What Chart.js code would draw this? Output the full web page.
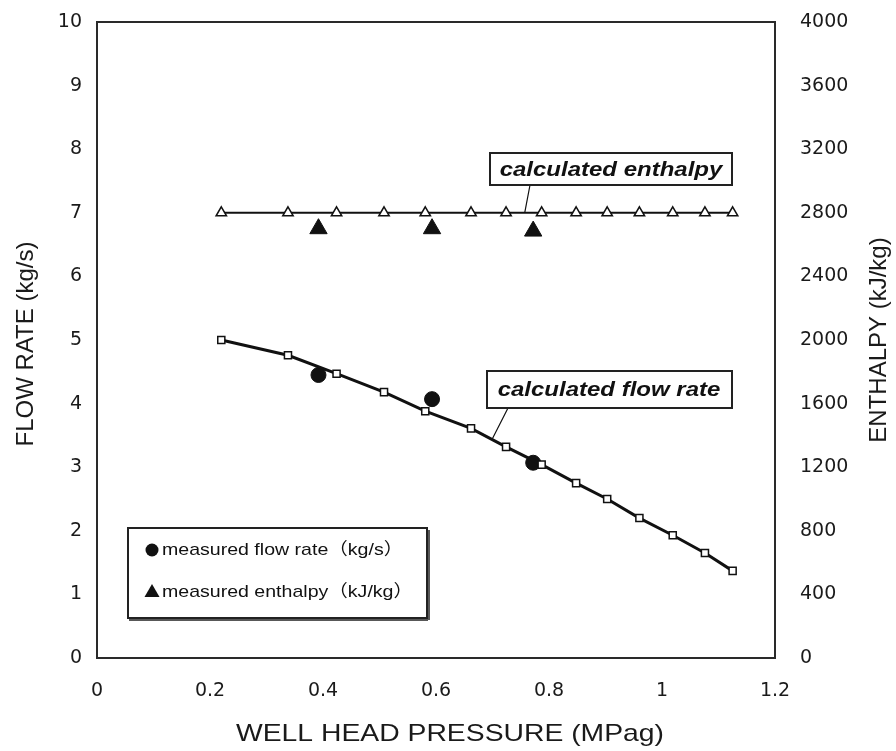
<!DOCTYPE html>
<html><head><meta charset="utf-8">
<script src="https://cdn.jsdelivr.net/npm/chart.js@4.4.1/dist/chart.umd.min.js"></script>
<style>html,body{margin:0;padding:0;background:#fff}#wrap{width:896px;height:751px}</style>
</head><body><div id="wrap"><canvas id="c" width="896" height="751"></canvas></div>
<script>
const pressureCalc = [0.22,0.338,0.424,0.508,0.581,0.662,0.724,0.787,0.848,0.903,0.96,1.019,1.076,1.125];
const flowCalc = [5.0,4.76,4.47,4.18,3.88,3.61,3.32,3.04,2.75,2.50,2.20,1.93,1.65,1.37];
const enthalpyCalc = [2800,2800,2800,2800,2800,2800,2800,2800,2800,2800,2800,2800,2800,2800];
const pressureMeas = [0.392,0.593,0.772];
const flowMeas = [4.45,4.07,3.07];
const enthalpyMeas = [2700,2700,2685];
const xTicks = [0,0.2,0.4,0.6,0.8,1,1.2];
const flowTicks = [0,1,2,3,4,5,6,7,8,9,10];
const enthalpyTicks = [0,400,800,1200,1600,2000,2400,2800,3200,3600,4000];
const xTitle = 'WELL HEAD PRESSURE (MPag)';
const yLeftTitle = 'FLOW RATE (kg/s)';
const yRightTitle = 'ENTHALPY (kJ/kg)';
const legendLabels = ['measured flow rate（kg/s）','measured enthalpy（kJ/kg）'];
const noteEnthalpy = 'calculated enthalpy';
const noteFlow = 'calculated flow rate';

const FONT = '"Liberation Sans", Arial, "Noto Sans CJK JP", sans-serif';
const TICKFONT = '"DejaVu Sans", "Liberation Sans", sans-serif';
const INK = '#111';

const pts = (xs, ys) => xs.map((x, i) => ({x, y: ys[i]}));

function wideText(ctx, text, x, y, sx, align) {
  ctx.save();
  ctx.translate(x, y);
  ctx.scale(sx, 1);
  ctx.textAlign = align;
  ctx.fillText(text, 0, 0);
  ctx.restore();
}

const decor = {
  id: 'decor',
  beforeDatasetsDraw(chart) {
    const {ctx, chartArea: a} = chart;
    ctx.save();
    ctx.strokeStyle = '#2a2a2a';
    ctx.lineWidth = 2;
    ctx.strokeRect(a.left, a.top, a.right - a.left, a.bottom - a.top);
    ctx.restore();
  },
  afterDatasetsDraw(chart) {
    const {ctx, scales} = chart;
    const x = scales.x, yl = scales.yFlow, yr = scales.yEnth;
    ctx.save();
    // leader lines
    ctx.strokeStyle = INK; ctx.lineWidth = 1.2;
    ctx.beginPath();
    ctx.moveTo(530, 185); ctx.lineTo(x.getPixelForValue(0.757), yr.getPixelForValue(2800));
    ctx.moveTo(508, 408); ctx.lineTo(x.getPixelForValue(0.70), yl.getPixelForValue(3.45));
    ctx.stroke();
    // annotation boxes
    ctx.lineWidth = 2; ctx.strokeStyle = '#222'; ctx.fillStyle = '#fff';
    ctx.fillRect(490, 153, 242, 32); ctx.strokeRect(490, 153, 242, 32);
    ctx.fillRect(487, 371, 245, 37); ctx.strokeRect(487, 371, 245, 37);
    ctx.fillStyle = INK;
    ctx.font = 'italic bold 20px ' + FONT;
    ctx.textBaseline = 'alphabetic';
    wideText(ctx, noteEnthalpy, 611, 176, 1.2, 'center');
    wideText(ctx, noteFlow, 609, 396, 1.2, 'center');
    // legend
    ctx.fillStyle = '#fff';
    ctx.fillRect(128, 528, 299, 90);
    ctx.strokeStyle = '#222'; ctx.lineWidth = 2;
    ctx.strokeRect(128, 528, 299, 90);
    ctx.beginPath(); ctx.moveTo(129, 620); ctx.lineTo(428, 620); ctx.moveTo(429, 530); ctx.lineTo(429, 620); ctx.lineWidth = 1.5; ctx.stroke();
    ctx.fillStyle = INK;
    ctx.beginPath(); ctx.arc(152, 550, 6.5, 0, Math.PI * 2); ctx.fill();
    ctx.beginPath(); ctx.moveTo(152, 584); ctx.lineTo(159.5, 597); ctx.lineTo(144.5, 597); ctx.closePath(); ctx.fill();
    ctx.font = '17px ' + FONT; ctx.textBaseline = 'middle';
    wideText(ctx, legendLabels[0], 162, 550, 1.15, 'left');
    wideText(ctx, legendLabels[1], 162, 592, 1.15, 'left');
    // axis titles
    ctx.font = '24px ' + FONT; ctx.textBaseline = 'middle';
    ctx.fillStyle = '#1a1a1a';
    wideText(ctx, xTitle, 450, 734, 1.18, 'center');
    ctx.textAlign = 'center';
    ctx.save(); ctx.translate(26, 344); ctx.rotate(-Math.PI / 2); ctx.fillText(yLeftTitle, 0, 0); ctx.restore();
    ctx.save(); ctx.translate(879, 340); ctx.rotate(-Math.PI / 2); ctx.fillText(yRightTitle, 0, 0); ctx.restore();
    ctx.restore();
  }
};

const fitY = w => s => { s.width = w; s.paddingTop = 0; s.paddingBottom = 0; };

new Chart(document.getElementById('c'), {
  type: 'line',
  data: {
    datasets: [
      {label: 'calculated flow rate', data: pts(pressureCalc, flowCalc), yAxisID: 'yFlow', order: 0,
       borderColor: INK, borderWidth: 3, pointStyle: 'rect', pointRadius: 5, pointBorderWidth: 1.5,
       pointBackgroundColor: '#fff', pointBorderColor: INK, tension: 0},
      {label: 'calculated enthalpy', data: pts(pressureCalc, enthalpyCalc), yAxisID: 'yEnth', order: 0,
       borderColor: INK, borderWidth: 2, pointStyle: 'triangle', pointRadius: 6, pointBorderWidth: 1.5,
       pointBackgroundColor: '#fff', pointBorderColor: INK},
      {label: 'measured flow rate (kg/s)', data: pts(pressureMeas, flowMeas), yAxisID: 'yFlow', order: 1,
       showLine: false, pointStyle: 'circle', pointRadius: 7.5, pointBackgroundColor: INK, pointBorderColor: INK},
      {label: 'measured enthalpy (kJ/kg)', data: pts(pressureMeas, enthalpyMeas), yAxisID: 'yEnth', order: 1,
       showLine: false, pointStyle: 'triangle', pointRadius: 10, pointBackgroundColor: INK, pointBorderColor: INK}
    ]
  },
  options: {
    responsive: false, animation: false,
    layout: {padding: {top: 22, left: 0, right: 0, bottom: 0}},
    plugins: {legend: {display: false}, tooltip: {enabled: false}},
    scales: {
      x: {type: 'linear', min: 0, max: 1.2,
          afterBuildTicks: s => { s.ticks = xTicks.map(v => ({value: v})); },
          afterFit: s => { s.height = 93; s.paddingLeft = 0; s.paddingRight = 0; },
          grid: {display: false, drawTicks: false}, border: {display: false},
          ticks: {padding: 22, color: '#1a1a1a', font: {family: TICKFONT, size: 19},
                  callback: v => String(+Number(v).toFixed(1))}},
      yFlow: {type: 'linear', position: 'left', min: 0, max: 10,
          afterBuildTicks: s => { s.ticks = flowTicks.map(v => ({value: v})); },
          afterFit: fitY(97),
          grid: {display: false, drawTicks: false}, border: {display: false},
          ticks: {padding: 15, color: '#1a1a1a', font: {family: TICKFONT, size: 19}}},
      yEnth: {type: 'linear', position: 'right', min: 0, max: 4000,
          afterBuildTicks: s => { s.ticks = enthalpyTicks.map(v => ({value: v})); },
          afterFit: fitY(121),
          grid: {display: false, drawTicks: false}, border: {display: false},
          ticks: {padding: 25, color: '#1a1a1a', font: {family: TICKFONT, size: 19}, callback: v => String(v)}}
    }
  },
  plugins: [decor]
});
</script></body></html>
